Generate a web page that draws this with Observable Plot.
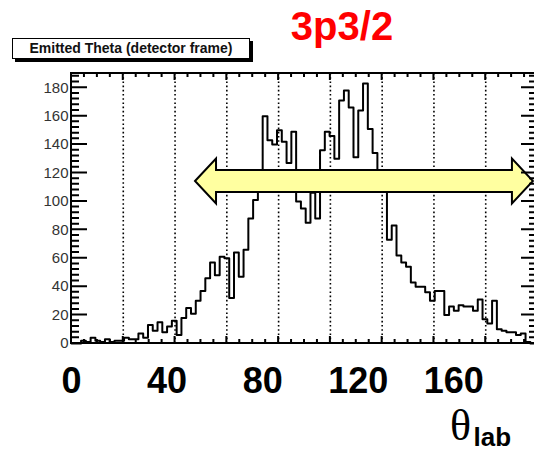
<!DOCTYPE html>
<html>
<head>
<meta charset="utf-8">
<script src="https://cdn.jsdelivr.net/npm/d3@7"></script>
<script src="https://cdn.jsdelivr.net/npm/@observablehq/plot@0.6"></script>
<style>
  body { margin: 0; background: #fff; }
  #chart { position: relative; width: 534px; height: 452px; overflow: hidden; font-family: "Liberation Sans", Arial, sans-serif; }
  #chart .title {
    position: absolute; left: 242px; top: 6px; width: 200px; text-align: center;
    font: bold 40px "Liberation Sans", Arial, sans-serif; line-height: 40px; color: #ff0000;
  }
  #chart .stat {
    position: absolute; left: 12px; top: 38px; width: 238px; height: 21px; box-sizing: border-box;
    border: 1.5px solid #000; background: #fff; box-shadow: 3px 3px 0 #000;
    font: bold 14px "Liberation Sans", Arial, sans-serif; line-height: 18px; text-align: center; color: #111;
  }
  #chart svg { position: absolute; left: 0; top: 63px; }
</style>
</head>
<body>
<div id="chart">
  <div class="title">3p3/2</div>
  <div class="stat">Emitted Theta (detector frame)</div>
</div>
<script>
// Emitted theta histogram (detector frame): counts per 2-degree bin starting at 0
const thetaCounts = [
  0, 0, 2, 1, 4, 2, 1, 3, 1, 2,
  2, 4, 3, 3, 7, 4, 13, 9, 15, 8,
  12, 16, 6, 18, 25, 21, 30, 37, 46, 57,
  48, 61, 60, 32, 64, 47, 66, 88, 101, 118,
  160, 143, 140, 150, 142, 127, 149, 100, 95, 85,
  106, 88, 136, 149, 146, 130, 171, 178, 166, 131,
  164, 183, 151, 134, 115, 108, 73, 83, 62, 57,
  54, 43, 40, 40, 36, 30, 37, 37, 20, 26,
  23, 27, 26, 26, 23, 31, 17, 14, 30, 10,
  9, 8, 8, 6, 7, 1, 0
];
const binWidth = 2;

// axis settings
const thetaDomain = [0, 195];
const countDomain = [0, 190];
const countTicks = [0, 20, 40, 60, 80, 100, 120, 140, 160, 180];
const thetaLabels = [0, 40, 80, 120, 160];

// accepted angular range, drawn as a double arrow
const arrowSpan = [51.9, 193.3];
const arrowLevel = 114;

// step outline points (left edge of every bin, plus the closing edge)
const steps = thetaCounts.map((n, i) => ({theta: i * binWidth, n}));
steps.push({theta: thetaCounts.length * binWidth, n: thetaCounts[thetaCounts.length - 1]});

// frame divisions: 9 major divisions along theta, 4 minor per major
const xMajor = d3.range(1, 9).map(k => k * thetaDomain[1] / 9);
const xMinor = d3.range(1, 36).filter(k => k % 4).map(k => k * thetaDomain[1] / 36);
const yMinor = d3.range(0, 190, 4).filter(v => v % 20);

// ROOT-style frame with inward ticks on all four sides
function frame(index, scales, values, dim) {
  const x0 = dim.marginLeft, x1 = dim.width - dim.marginRight;
  const y0 = dim.marginTop, y1 = dim.height - dim.marginBottom;
  const g = d3.create("svg:g").attr("fill", "none").attr("stroke", "#000");
  const p = d3.path();
  for (const v of countTicks) {
    const y = scales.y(v);
    p.moveTo(x0, y); p.lineTo(x0 + 16, y);
    p.moveTo(x1, y); p.lineTo(x1 - 16, y);
  }
  for (const v of yMinor) {
    const y = scales.y(v);
    p.moveTo(x0, y); p.lineTo(x0 + 8, y);
    p.moveTo(x1, y); p.lineTo(x1 - 8, y);
  }
  for (const v of xMajor) {
    const x = scales.x(v);
    p.moveTo(x, y0); p.lineTo(x, y0 + 7);
    p.moveTo(x, y1); p.lineTo(x, y1 - 7);
  }
  for (const v of xMinor) {
    const x = scales.x(v);
    p.moveTo(x, y0); p.lineTo(x, y0 + 4);
    p.moveTo(x, y1); p.lineTo(x, y1 - 4);
  }
  g.append("path").attr("d", p.toString()).attr("stroke-width", 2);
  g.append("rect").attr("x", x0).attr("y", y0).attr("width", x1 - x0).attr("height", y1 - y0)
    .attr("stroke-width", 2);
  return g.node();
}

// fat double-headed arrow spanning the accepted range
function doubleArrow(index, scales) {
  const xs = scales.x(arrowSpan[0]), xe = scales.x(arrowSpan[1]), yc = scales.y(arrowLevel);
  const h = 11, H = 22.5, L = 21;
  const pts = [
    [xs, yc], [xs + L, yc - H], [xs + L, yc - h], [xe - L, yc - h], [xe - L, yc - H],
    [xe, yc], [xe - L, yc + H], [xe - L, yc + h], [xs + L, yc + h], [xs + L, yc + H]
  ];
  return d3.create("svg:path")
    .attr("d", "M" + pts.join("L") + "Z")
    .attr("fill", "#ffffa0").attr("stroke", "#000").attr("stroke-width", 2)
    .attr("stroke-linejoin", "miter")
    .node();
}

const chart = Plot.plot({
  width: 534,
  height: 389,
  marginTop: 10,
  marginLeft: 71,
  marginRight: -3,
  marginBottom: 109,
  style: {fontFamily: "'Liberation Sans', Arial, sans-serif", background: "transparent", overflow: "hidden"},
  x: {domain: thetaDomain},
  y: {domain: countDomain},
  marks: [
    Plot.ruleX(xMajor, {stroke: "#000", strokeWidth: 1.6, strokeDasharray: "1.6,2.6"}),
    Plot.line(steps, {x: "theta", y: "n", curve: "step-after", stroke: "#000", strokeWidth: 2}),
    doubleArrow,
    frame,
    Plot.axisY({ticks: countTicks, tickSize: 0, tickPadding: 3, fontSize: 15, fill: "#333", label: null}),
    Plot.axisX({ticks: thetaLabels, tickSize: 0, tickPadding: 24, fontSize: 36, fontWeight: "bold", fill: "#000", label: null, tickFormat: d => String(d)}),
    Plot.text(["θ"], {frameAnchor: "bottom-right", dx: -77, dy: 96, fontSize: 44, fontFamily: "'Liberation Serif', 'Times New Roman', serif", fill: "#000", textAnchor: "middle"}),
    Plot.text(["lab"], {frameAnchor: "bottom-right", dx: -64, dy: 102, fontSize: 26, fontWeight: "bold", fill: "#000", textAnchor: "start"})
  ]
});
document.getElementById("chart").appendChild(chart);
</script>
</body>
</html>
